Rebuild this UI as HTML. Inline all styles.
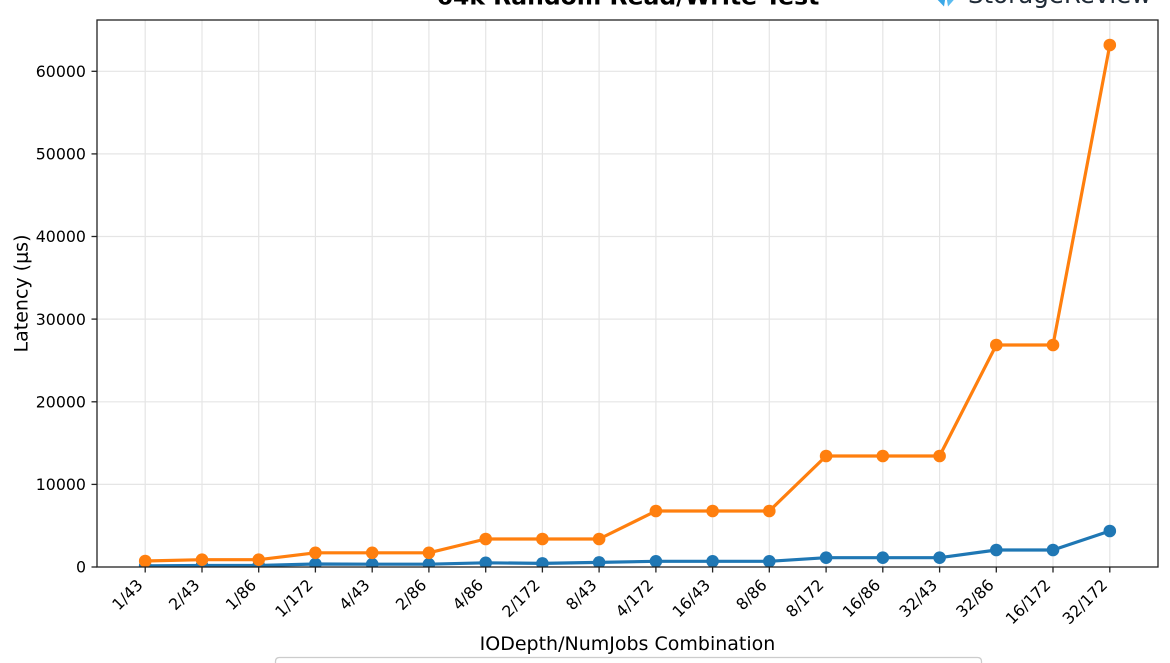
<!DOCTYPE html>
<html>
<head>
<meta charset="utf-8">
<style>
html,body{margin:0;padding:0;background:#fff;width:1170px;height:663px;overflow:hidden;}
svg{display:block;overflow:hidden;}
text{font-family:"DejaVu Sans","Liberation Sans",sans-serif;fill:#000;}
</style>
</head>
<body>
<svg width="1170" height="663" viewBox="0 0 1170 663" xmlns="http://www.w3.org/2000/svg">
<defs>
<clipPath id="ax"><rect x="97" y="20" width="1061" height="547"/></clipPath>
</defs>
<rect width="1170" height="663" fill="#fff"/>

<!-- Title (mostly cut off) -->
<text x="628" y="4.5" text-anchor="middle" font-size="23.5" font-weight="bold">64k Random Read/Write Test</text>

<!-- Logo -->
<g>
<path d="M932,-6 L944,6.5 L946,-6 Z" fill="#3aa7e6"/>
<path d="M946,-6 L948,6.5 L959,-6 Z" fill="#5bbcf0"/>
<text x="968" y="3" font-size="24.5" style="fill:#1f2a36">StorageReview</text>
</g>

<!-- Grid -->
<g stroke="#e5e5e5" stroke-width="1.2">
<line x1="145.2" y1="20" x2="145.2" y2="567"/>
<line x1="202.0" y1="20" x2="202.0" y2="567"/>
<line x1="258.7" y1="20" x2="258.7" y2="567"/>
<line x1="315.4" y1="20" x2="315.4" y2="567"/>
<line x1="372.2" y1="20" x2="372.2" y2="567"/>
<line x1="428.9" y1="20" x2="428.9" y2="567"/>
<line x1="485.7" y1="20" x2="485.7" y2="567"/>
<line x1="542.4" y1="20" x2="542.4" y2="567"/>
<line x1="599.1" y1="20" x2="599.1" y2="567"/>
<line x1="655.9" y1="20" x2="655.9" y2="567"/>
<line x1="712.6" y1="20" x2="712.6" y2="567"/>
<line x1="769.3" y1="20" x2="769.3" y2="567"/>
<line x1="826.1" y1="20" x2="826.1" y2="567"/>
<line x1="882.8" y1="20" x2="882.8" y2="567"/>
<line x1="939.6" y1="20" x2="939.6" y2="567"/>
<line x1="996.3" y1="20" x2="996.3" y2="567"/>
<line x1="1053.0" y1="20" x2="1053.0" y2="567"/>
<line x1="1109.8" y1="20" x2="1109.8" y2="567"/>
<line x1="97" y1="484.4" x2="1158" y2="484.4"/>
<line x1="97" y1="401.8" x2="1158" y2="401.8"/>
<line x1="97" y1="319.1" x2="1158" y2="319.1"/>
<line x1="97" y1="236.5" x2="1158" y2="236.5"/>
<line x1="97" y1="153.9" x2="1158" y2="153.9"/>
<line x1="97" y1="71.3" x2="1158" y2="71.3"/>
</g>

<!-- Series -->
<g clip-path="url(#ax)">
<polyline fill="none" stroke="#1f77b4" stroke-width="3.2" stroke-linejoin="round"
 points="145.2,565.8 202.0,565.5 258.7,565.5 315.4,564 372.2,564.2 428.9,564.2 485.7,562.8 542.4,563.4 599.1,562.4 655.9,561.3 712.6,561.3 769.3,561.3 826.1,557.7 882.8,557.7 939.6,557.7 996.3,550 1053.0,550 1109.8,531"/>
<g fill="#1f77b4">
<circle cx="145.2" cy="565.8" r="6.3"/><circle cx="202.0" cy="565.5" r="6.3"/><circle cx="258.7" cy="565.5" r="6.3"/>
<circle cx="315.4" cy="564" r="6.3"/><circle cx="372.2" cy="564.2" r="6.3"/><circle cx="428.9" cy="564.2" r="6.3"/>
<circle cx="485.7" cy="562.8" r="6.3"/><circle cx="542.4" cy="563.4" r="6.3"/><circle cx="599.1" cy="562.4" r="6.3"/>
<circle cx="655.9" cy="561.3" r="6.3"/><circle cx="712.6" cy="561.3" r="6.3"/><circle cx="769.3" cy="561.3" r="6.3"/>
<circle cx="826.1" cy="557.7" r="6.3"/><circle cx="882.8" cy="557.7" r="6.3"/><circle cx="939.6" cy="557.7" r="6.3"/>
<circle cx="996.3" cy="550" r="6.3"/><circle cx="1053.0" cy="550" r="6.3"/><circle cx="1109.8" cy="531" r="6.3"/>
</g>
<polyline fill="none" stroke="#ff7f0e" stroke-width="3.2" stroke-linejoin="round"
 points="145.2,561 202.0,559.7 258.7,559.7 315.4,552.8 372.2,552.8 428.9,552.8 485.7,539 542.4,539 599.1,539 655.9,511 712.6,511 769.3,511 826.1,456 882.8,456 939.6,456 996.3,345 1053.0,345 1109.8,45"/>
<g fill="#ff7f0e">
<circle cx="145.2" cy="561" r="6.3"/><circle cx="202.0" cy="559.7" r="6.3"/><circle cx="258.7" cy="559.7" r="6.3"/>
<circle cx="315.4" cy="552.8" r="6.3"/><circle cx="372.2" cy="552.8" r="6.3"/><circle cx="428.9" cy="552.8" r="6.3"/>
<circle cx="485.7" cy="539" r="6.3"/><circle cx="542.4" cy="539" r="6.3"/><circle cx="599.1" cy="539" r="6.3"/>
<circle cx="655.9" cy="511" r="6.3"/><circle cx="712.6" cy="511" r="6.3"/><circle cx="769.3" cy="511" r="6.3"/>
<circle cx="826.1" cy="456" r="6.3"/><circle cx="882.8" cy="456" r="6.3"/><circle cx="939.6" cy="456" r="6.3"/>
<circle cx="996.3" cy="345" r="6.3"/><circle cx="1053.0" cy="345" r="6.3"/><circle cx="1109.8" cy="45" r="6.3"/>
</g>
</g>

<!-- Spines -->
<rect x="97" y="20" width="1061" height="547" fill="none" stroke="#222" stroke-width="1.3"/>

<!-- Y ticks -->
<g stroke="#222" stroke-width="1.3">
<line x1="91.5" y1="567" x2="97" y2="567"/>
<line x1="91.5" y1="484.4" x2="97" y2="484.4"/>
<line x1="91.5" y1="401.8" x2="97" y2="401.8"/>
<line x1="91.5" y1="319.1" x2="97" y2="319.1"/>
<line x1="91.5" y1="236.5" x2="97" y2="236.5"/>
<line x1="91.5" y1="153.9" x2="97" y2="153.9"/>
<line x1="91.5" y1="71.3" x2="97" y2="71.3"/>
</g>
<g font-size="15.8" text-anchor="end">
<text x="86" y="572.7">0</text>
<text x="86" y="490.1">10000</text>
<text x="86" y="407.5">20000</text>
<text x="86" y="324.8">30000</text>
<text x="86" y="242.2">40000</text>
<text x="86" y="159.6">50000</text>
<text x="86" y="77">60000</text>
</g>

<!-- X ticks -->
<g stroke="#222" stroke-width="1.3">
<line x1="145.2" y1="567" x2="145.2" y2="572.5"/>
<line x1="202.0" y1="567" x2="202.0" y2="572.5"/>
<line x1="258.7" y1="567" x2="258.7" y2="572.5"/>
<line x1="315.4" y1="567" x2="315.4" y2="572.5"/>
<line x1="372.2" y1="567" x2="372.2" y2="572.5"/>
<line x1="428.9" y1="567" x2="428.9" y2="572.5"/>
<line x1="485.7" y1="567" x2="485.7" y2="572.5"/>
<line x1="542.4" y1="567" x2="542.4" y2="572.5"/>
<line x1="599.1" y1="567" x2="599.1" y2="572.5"/>
<line x1="655.9" y1="567" x2="655.9" y2="572.5"/>
<line x1="712.6" y1="567" x2="712.6" y2="572.5"/>
<line x1="769.3" y1="567" x2="769.3" y2="572.5"/>
<line x1="826.1" y1="567" x2="826.1" y2="572.5"/>
<line x1="882.8" y1="567" x2="882.8" y2="572.5"/>
<line x1="939.6" y1="567" x2="939.6" y2="572.5"/>
<line x1="996.3" y1="567" x2="996.3" y2="572.5"/>
<line x1="1053.0" y1="567" x2="1053.0" y2="572.5"/>
<line x1="1109.8" y1="567" x2="1109.8" y2="572.5"/>
</g>
<g font-size="15.8" text-anchor="end">
<text transform="translate(143.8,586) rotate(-45)">1/43</text>
<text transform="translate(200.6,586) rotate(-45)">2/43</text>
<text transform="translate(257.3,586) rotate(-45)">1/86</text>
<text transform="translate(314.0,586) rotate(-45)">1/172</text>
<text transform="translate(370.8,586) rotate(-45)">4/43</text>
<text transform="translate(427.5,586) rotate(-45)">2/86</text>
<text transform="translate(484.3,586) rotate(-45)">4/86</text>
<text transform="translate(541.0,586) rotate(-45)">2/172</text>
<text transform="translate(597.7,586) rotate(-45)">8/43</text>
<text transform="translate(654.5,586) rotate(-45)">4/172</text>
<text transform="translate(711.2,586) rotate(-45)">16/43</text>
<text transform="translate(767.9,586) rotate(-45)">8/86</text>
<text transform="translate(824.7,586) rotate(-45)">8/172</text>
<text transform="translate(881.4,586) rotate(-45)">16/86</text>
<text transform="translate(938.2,586) rotate(-45)">32/43</text>
<text transform="translate(994.9,586) rotate(-45)">32/86</text>
<text transform="translate(1051.6,586) rotate(-45)">16/172</text>
<text transform="translate(1108.4,586) rotate(-45)">32/172</text>
</g>

<!-- Axis labels -->
<text x="627.5" y="650" text-anchor="middle" font-size="19">IODepth/NumJobs Combination</text>
<text transform="translate(27.5,293.5) rotate(-90)" text-anchor="middle" font-size="19">Latency (μs)</text>

<!-- Legend (cut off) -->
<path d="M275.5,663 L275.5,661.5 Q275.5,657.5 279.5,657.5 L977.5,657.5 Q981.5,657.5 981.5,661.5 L981.5,663" fill="#fff" stroke="#cccccc" stroke-width="1.3"/>
</svg>
</body>
</html>
